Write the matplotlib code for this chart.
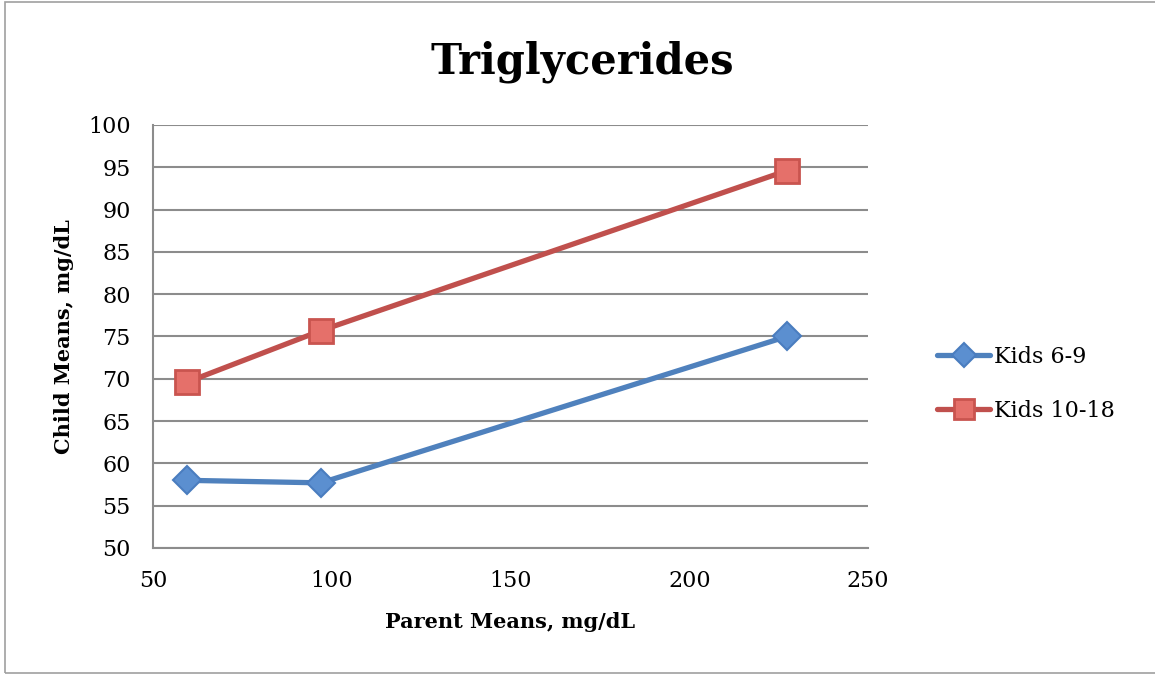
import matplotlib
matplotlib.use("Agg")
import matplotlib.pyplot as plt
from matplotlib.patches import Rectangle

plt.rcParams['font.family'] = ['DejaVu Serif']

parent_6_9 = [59.5, 97.0, 227.3]
child_6_9 = [58.0, 57.7, 75.0]
parent_10_18 = [59.5, 97.0, 227.3]
child_10_18 = [69.6, 75.7, 94.6]
labels = ["Kids 6-9", "Kids 10-18"]
title = "Triglycerides"
xticks = [50, 100, 150, 200, 250]
yticks = [50, 55, 60, 65, 70, 75, 80, 85, 90, 95, 100]

W, H = 1155, 675
fig = plt.figure(figsize=(W/100, H/100), dpi=100)
fig.patches.append(Rectangle((5/W, 2/H), 1.2, (673-2)/H, transform=fig.transFigure,
                             fill=False, edgecolor='#a0a0a0', linewidth=1.2))

ax = fig.add_axes([153/W, 1-548/H, (868-153)/W, (548-125)/H])
blue = '#4f81bd'
red = '#c0504d'
ax.plot(parent_6_9, child_6_9, color=blue, lw=3.8, marker='D', ms=14,
        markerfacecolor='#5b8fd0', markeredgecolor='#4a7dbf', markeredgewidth=1.5,
        label=labels[0], solid_capstyle='round', zorder=3)
ax.plot(parent_10_18, child_10_18, color=red, lw=3.8, marker='s', ms=17,
        markerfacecolor='#e5706a', markeredgecolor='#c9544f', markeredgewidth=2,
        label=labels[1], solid_capstyle='round', zorder=3)

ax.set_xlim(50, 250)
ax.set_ylim(50, 100)
ax.set_xticks(xticks)
ax.set_yticks(yticks)
ax.tick_params(axis='both', length=0, labelsize=16, pad=16)
ax.tick_params(axis='x', pad=16)
ax.grid(axis='y', color='#8c8c8c', lw=1.5)
ax.set_axisbelow(True)
for s in ['top', 'right']:
    ax.spines[s].set_visible(False)
ax.spines['left'].set_color('#8c8c8c')
ax.spines['left'].set_linewidth(1.5)
ax.spines['bottom'].set_color('#8c8c8c')
ax.spines['bottom'].set_linewidth(1.5)

ax.set_xlabel("Parent Means, mg/dL", fontsize=15, fontweight='bold', labelpad=14)
ax.set_ylabel("Child Means, mg/dL", fontsize=15, fontweight='bold', labelpad=10)
fig.text(582/W, 1-62/H, title, ha='center', va='center', fontsize=30, fontweight='bold')

leg = fig.legend(loc='center left', bbox_to_anchor=(937/W, 1-384/H), frameon=False,
                 fontsize=16, handlelength=2.4, labelspacing=1.45, handletextpad=0.15,
                 borderpad=0, borderaxespad=0, markerscale=0.85)

fig.savefig("out.png", dpi=100)
